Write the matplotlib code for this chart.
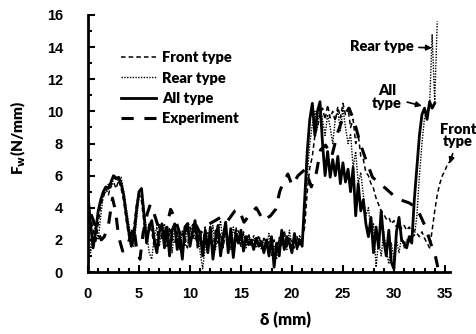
import numpy as np
import matplotlib
matplotlib.use("Agg")
import matplotlib.pyplot as plt
from matplotlib.lines import Line2D
from matplotlib.ticker import MultipleLocator

# sample spacing of the simulated curves (mm)
step = 0.25

# one row = 2 mm of displacement
all_type = [
    4.8, 3.0, 1.5, 2.5, 3.8, 4.5, 5.0, 5.3,
    5.2, 5.6, 6.0, 5.8, 5.9, 5.5, 4.8, 3.6,
    2.5, 1.6, 2.2, 3.8, 5.0, 5.2, 3.5, 1.8,
    2.8, 3.2, 2.0, 1.2, 2.5, 3.0, 1.5, 2.8,
    1.0, 2.6, 3.0, 1.4, 2.2, 0.8, 2.8, 3.0,
    1.6, 2.5, 3.2, 1.8, 2.4, 1.0, 2.6, 1.2,
    2.8, 0.8, 2.0, 2.9, 1.0, 2.2, 3.1, 1.2,
    2.7, 0.9, 2.4, 1.8, 2.6, 1.3, 2.2, 1.7,
    2.0, 1.4, 2.1, 1.6, 1.9, 1.2, 2.0, 1.0,
    2.2, 0.3, 1.8, 1.0, 2.6, 1.4, 2.2, 1.8,
    1.2, 2.4, 1.5, 2.0, 1.6, 4.5, 7.5, 9.5,
    10.5, 8.5, 10.0, 10.6, 8.0, 6.0, 7.5, 5.9,
    7.0, 6.0, 7.2, 5.5, 6.8, 5.6, 6.4, 5.0,
    6.5, 3.5, 5.5, 3.8, 4.5, 3.0, 2.2, 3.4,
    1.2, 2.8, 1.5, 3.8, 2.0, 1.0, 2.6, 0.6,
    0.2, 2.5, 3.4, 2.0, 1.8, 1.5, 2.2, 1.8,
    4.5, 6.5, 8.5, 9.8, 10.2, 9.5, 10.6, 10.2,
    10.5,
]

rear_type = [
    3.5, 1.2, 2.2, 3.0, 2.0, 3.5, 4.8, 5.0,
    5.5, 5.2, 5.8, 6.0, 5.6, 5.9, 5.0, 4.0,
    3.0, 2.0, 1.6, 3.2, 4.6, 4.8, 4.0, 2.5,
    1.2, 0.8, 2.2, 2.8, 1.6, 2.6, 3.0, 1.8,
    2.4, 1.2, 2.8, 2.2, 1.5, 2.6, 1.6, 2.9,
    2.4, 3.0, 2.0, 2.6, 1.2, 0.2, 1.6, 2.5,
    1.8, 2.9, 1.4, 2.4, 3.2, 1.6, 2.6, 2.0,
    1.4, 2.8, 2.0, 2.6, 1.8, 2.4, 1.5, 2.2,
    1.6, 2.3, 1.5, 2.2, 1.4, 2.0, 1.6, 2.4,
    1.0, 1.6, 0.8, 2.2, 1.6, 2.4, 1.4, 2.6,
    1.6, 2.2, 1.4, 2.3, 1.8, 3.5, 6.0, 8.0,
    9.2, 10.0, 9.0, 10.3, 9.5, 8.5, 9.8, 9.0,
    8.0, 9.5, 10.0, 8.8, 10.2, 9.0, 8.0, 8.6,
    6.5, 7.5, 5.5, 6.2, 4.8, 3.5, 4.0, 2.5,
    3.0, 0.3, 2.0, 1.0, 2.5, 1.4, 0.5, 1.8,
    0.8, 2.0, 1.2, 2.2, 1.5, 2.0, 1.8, 2.4,
    2.2, 3.5, 6.0, 8.0, 9.6, 10.0, 10.4, 14.8,
    10.6, 15.6,
]

front_type = [
    2.2, 3.6, 2.6, 1.8, 3.0, 4.2, 4.6, 5.2,
    4.8, 5.4, 5.6, 5.2, 5.7, 5.2, 4.4, 3.2,
    2.2, 2.0, 2.8, 4.2, 4.9, 4.4, 3.0, 2.2,
    3.0, 2.5, 1.6, 2.2, 3.0, 2.0, 2.6, 1.6,
    2.8, 2.0, 1.8, 2.6, 1.4, 2.4, 2.2, 1.5,
    2.8, 2.0, 2.6, 1.4, 2.2, 1.8, 2.8, 1.6,
    2.3, 1.5, 2.6, 1.8, 2.4, 1.5, 2.6, 1.9,
    2.2, 1.6, 2.8, 2.1, 1.6, 2.5, 1.9, 2.4,
    1.7, 2.0, 1.8, 2.3, 1.6, 2.1, 1.5, 1.9,
    1.3, 2.0, 1.5, 2.0, 1.8, 2.6, 1.6, 2.1,
    1.9, 1.5, 2.2, 1.7, 2.0, 2.8, 5.0, 6.5,
    7.2, 8.5, 9.0, 9.8, 10.2, 9.5, 10.4, 9.6,
    10.0, 9.4, 10.3, 9.6, 10.5, 9.8, 10.2, 9.0,
    9.5, 8.0, 8.6, 7.2, 7.0, 6.2, 6.0, 5.5,
    5.2, 4.6, 4.2, 3.8, 3.6, 3.3, 3.4, 3.0,
    3.2, 2.8, 3.0, 2.7, 2.9, 2.6, 2.8, 2.5,
    2.6, 2.4, 2.2, 2.5, 2.1, 1.8, 1.5, 2.6,
    3.8, 4.8, 5.5, 6.0, 6.3, 6.7, 6.9,
]

exp_x = [0.3, 0.7, 1.3, 1.6, 2.0, 2.4, 2.7, 3.0, 3.4, 3.8, 4.2, 4.5,
         4.8, 5.1, 5.4, 5.8, 6.1, 6.4, 6.9, 7.5, 8.1, 8.5, 9.2, 9.8,
         10.4, 11.0, 11.6, 12.2, 13.0, 13.6, 14.4, 14.8, 15.3, 15.9,
         16.5, 17.2, 17.9, 18.4, 18.8, 19.1, 19.6, 20.0, 20.6, 21.3,
         21.9, 22.4, 22.8, 23.3, 23.9, 24.5, 25.0, 25.6, 26.1, 26.7,
         27.3, 27.9, 28.6, 29.2, 29.9, 30.6, 31.5, 32.2, 32.6, 33.1,
         33.6, 34.1, 34.3]
experiment = [3.6, 2.9, 2.0, 2.2, 2.9, 4.6, 3.8, 2.2, 1.3, 1.5, 2.3, 2.8,
              1.3, 0.8, 2.4, 3.6, 4.2, 3.8, 2.8, 2.2, 3.9, 3.4, 2.0, 3.0,
              3.2, 2.4, 2.9, 3.1, 3.4, 3.1, 3.8, 3.9, 3.1, 3.6, 4.0, 3.2,
              3.5, 3.9, 5.0, 5.5, 6.1, 5.4, 6.0, 6.4, 5.3, 6.2, 7.6, 7.9,
              7.2, 8.7, 9.6, 10.2, 9.4, 8.0, 6.9, 5.9, 5.5, 5.2, 4.8, 4.5,
              4.3, 4.0, 3.5, 2.8, 1.8, 0.9, 0.3]

x_all = np.arange(len(all_type)) * step
x_rear = np.arange(len(rear_type)) * step
x_front = np.arange(len(front_type)) * step

bold_narrow = ['Lato', 'DejaVu Sans']
heavy = 'heavy'

fig = plt.figure(figsize=(4.76, 3.34), dpi=100)
ax = fig.add_axes([88 / 476, 62 / 334, 362 / 476, 257 / 334])

ax.plot(x_front, front_type, color='black', lw=1.1, ls=(0, (3, 2)))
ax.plot(x_rear, rear_type, color='black', lw=1.0, ls=(0, (1, 1)))
ax.plot(x_all, all_type, color='black', lw=2.0, ls='-')
ax.plot(exp_x, experiment, color='black', lw=2.2, ls=(0, (4, 3.5)))

ax.set_xlim(0, 35.5)
ax.set_ylim(0, 16)
ax.xaxis.set_major_locator(MultipleLocator(5))
ax.xaxis.set_minor_locator(MultipleLocator(1))
ax.yaxis.set_major_locator(MultipleLocator(2))
ax.yaxis.set_minor_locator(MultipleLocator(1))

for side in ['top', 'right']:
    ax.spines[side].set_visible(False)
for side in ['left', 'bottom']:
    ax.spines[side].set_linewidth(2.0)

ax.tick_params(axis='both', which='both', direction='in', width=1.5)
ax.tick_params(axis='both', which='major', length=5)
ax.tick_params(axis='both', which='minor', length=3)
ax.tick_params(axis='y', which='major', pad=18)
ax.tick_params(axis='x', which='major', pad=11)
for lab in ax.get_xticklabels() + ax.get_yticklabels():
    lab.set_fontfamily('Liberation Sans')
    lab.set_fontweight('bold')
    lab.set_fontsize(10.5)

ax.set_ylabel('F$_\\mathbf{w}$(N/mm)', fontsize=11, fontweight=heavy,
              family=bold_narrow)
ax.yaxis.set_label_coords(-0.165, 0.52)
ax.set_xlabel('δ (mm)', fontsize=12, fontweight=heavy, family=bold_narrow)
ax.xaxis.set_label_coords(0.545, -0.155)

handles = [
    Line2D([], [], color='black', lw=1.1, ls=(0, (3, 2))),
    Line2D([], [], color='black', lw=1.0, ls=(0, (1, 1))),
    Line2D([], [], color='black', lw=2.0, ls='-'),
    Line2D([], [], color='black', lw=2.2, ls=(0, (4, 3.5))),
]
labels = ['Front type', 'Rear type', 'All type', 'Experiment']
ax.legend(handles, labels, loc='upper left', bbox_to_anchor=(0.055, 0.91),
          frameon=False, handlelength=2.4, handletextpad=0.4,
          labelspacing=0.5,
          prop={'family': bold_narrow, 'weight': heavy, 'size': 10.5})

arrow = dict(arrowstyle='-|>', color='black', lw=1.2, mutation_scale=8)
txt = dict(fontsize=10.5, fontweight=heavy, family=bold_narrow,
           annotation_clip=False)
ax.annotate('Rear type', xy=(34.0, 13.95), xytext=(31.9, 14.05),
            ha='right', va='center', arrowprops=arrow, **txt)
ax.annotate('All\ntype', xy=(33.0, 10.3), xytext=(29.3, 10.9),
            ha='center', va='center', linespacing=0.95,
            arrowprops=arrow, **txt)
ax.annotate('Front\ntype', xy=(35.4, 6.6), xytext=(36.3, 8.5),
            ha='center', va='center', linespacing=0.95,
            arrowprops=arrow, **txt)

fig.savefig('out.png', dpi=100)
